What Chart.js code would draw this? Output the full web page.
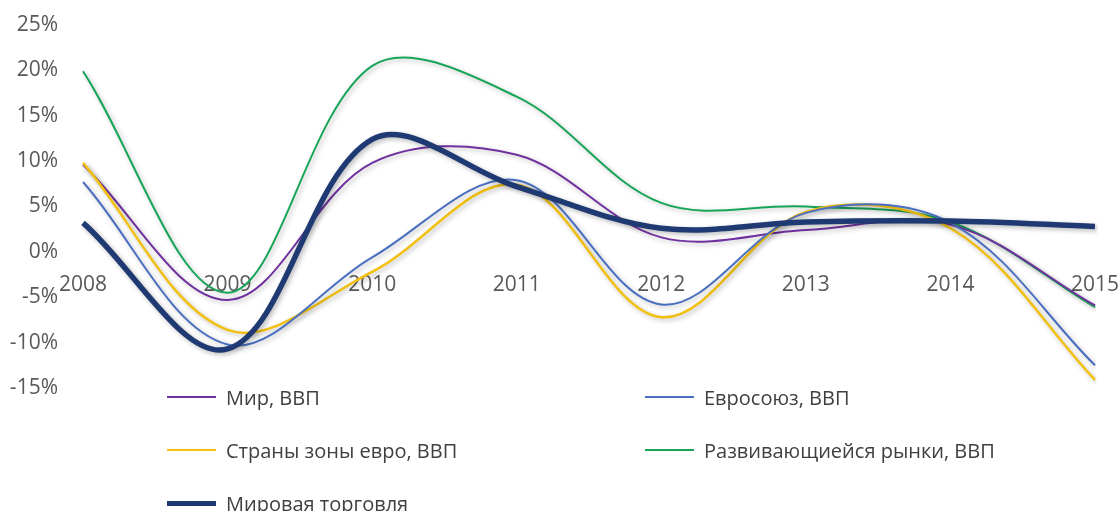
<!DOCTYPE html>
<html lang="ru">
<head>
<meta charset="utf-8">
<script src="https://cdn.jsdelivr.net/npm/chart.js@4.4.1/dist/chart.umd.min.js"></script>
<style>
  html, body { margin: 0; padding: 0; background: #fff; }
  #wrap { position: relative; width: 1120px; height: 511px; }
  #growthChart { position: absolute; left: 0; top: 0; }
  #legend {
    position: absolute; left: 167px; top: 384px;
    display: grid; grid-template-columns: 478px 400px; grid-auto-rows: 53px;
    font-family: "Open Sans", sans-serif; font-size: 20px; color: #404040;
  }
  .item { display: flex; align-items: center; height: 26px; white-space: nowrap; }
  .swatch { display: inline-block; width: 49px; margin-right: 10px; }
</style>
</head>
<body>
<div id="wrap">
  <canvas id="growthChart" width="1120" height="511"></canvas>
  <div id="legend"></div>
</div>
<script>
// годы и темпы роста, %
const years = ['2008', '2009', '2010', '2011', '2012', '2013', '2014', '2015'];
const mirVvp = [9.6, -5.3, 9.8, 10.7, 1.6, 2.4, 3.0, -5.9];
const evrosoyuzVvp = [7.7, -10.2, -0.6, 7.9, -5.8, 4.3, 3.2, -12.5];
const evrozonaVvp = [9.8, -8.6, -2.2, 7.4, -7.2, 4.4, 2.6, -14.1];
const rynkiVvp = [19.9, -4.5, 20.5, 17.1, 5.4, 5.0, 3.3, -6.1];
const torgovlya = [3.2, -10.7, 12.4, 7.2, 2.6, 3.3, 3.4, 2.8];

const tickFont = { family: 'Open Sans', size: 21 };

// мягкая тень под линиями
const lineShadow = {
    id: 'lineShadow',
    beforeDatasetDraw(chart) {
        const ctx = chart.ctx;
        ctx.save();
        ctx.shadowColor = 'rgba(0, 0, 0, 0.28)';
        ctx.shadowBlur = 5;
        ctx.shadowOffsetX = 2;
        ctx.shadowOffsetY = 2;
    },
    afterDatasetDraw(chart) {
        chart.ctx.restore();
    }
};

const series = [
    { label: 'Мир, ВВП', data: mirVvp, color: '#7030A0', width: 2, order: 3 },
    { label: 'Евросоюз, ВВП', data: evrosoyuzVvp, color: '#4A6FC0', width: 2, order: 1 },
    { label: 'Страны зоны евро, ВВП', data: evrozonaVvp, color: '#F2C010', width: 2.5, order: 2 },
    { label: 'Развивающиейся рынки, ВВП', data: rynkiVvp, color: '#18A558', width: 2, order: 4 },
    { label: 'Мировая торговля', data: torgovlya, color: '#1F3A72', width: 5.5, order: 0 }
];

// подписи не должны сжимать область графика
const noOverhang = s => {
    s.paddingLeft = 0; s.paddingRight = 0;
    s.paddingTop = 0; s.paddingBottom = 0;
};

const ctx = document.getElementById('growthChart').getContext('2d');
new Chart(ctx, {
    type: 'line',
    data: {
        labels: years,
        datasets: series.map(s => ({
            label: s.label,
            data: s.data,
            borderColor: s.color,
            backgroundColor: s.color,
            borderWidth: s.width,
            order: s.order,
            tension: 0.35,
            pointRadius: 0,
            fill: false
        }))
    },
    options: {
        responsive: false,
        animation: false,
        layout: { padding: { top: 25, bottom: 123, left: 0, right: 25 } },
        plugins: { legend: { display: false }, tooltip: { enabled: false } },
        scales: {
            x: {
                position: { y: 0 },
                offset: false,
                grid: { display: false },
                border: { display: false },
                ticks: { font: tickFont, color: '#595959', padding: 13, maxRotation: 0, autoSkip: false },
                afterFit: noOverhang
            },
            y: {
                min: -15,
                max: 25,
                grid: { display: false },
                border: { display: false },
                ticks: { font: tickFont, color: '#595959', stepSize: 5, padding: 17,
                         callback: v => v + '%' },
                afterFit: s => { s.width = 83; noOverhang(s); }
            }
        }
    },
    plugins: [lineShadow]
});

// легенда в две колонки
const legend = document.getElementById('legend');
series.forEach(s => {
    const item = document.createElement('div');
    item.className = 'item';
    const sw = document.createElement('span');
    sw.className = 'swatch';
    sw.style.borderTop = s.width + 'px solid ' + s.color;
    const txt = document.createElement('span');
    txt.textContent = s.label;
    item.appendChild(sw);
    item.appendChild(txt);
    legend.appendChild(item);
});
</script>
</body>
</html>
